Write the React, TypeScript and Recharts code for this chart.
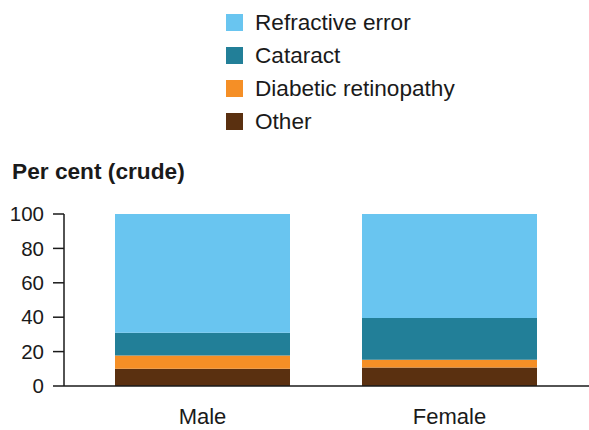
import { BarChart, Bar, XAxis, YAxis } from "recharts";

const groups = ["Male", "Female"];
const other = [10.0, 10.8];
const diabeticRetinopathy = [7.8, 4.5];
const cataract = [13.1, 24.3];
const refractiveError = [69.1, 60.4];
const yTicks = [0, 20, 40, 60, 80, 100];

const series = [
  { key: "refractive", name: "Refractive error", color: "#69C5F0" },
  { key: "cataract", name: "Cataract", color: "#227F98" },
  { key: "diabetic", name: "Diabetic retinopathy", color: "#F58F26" },
  { key: "other", name: "Other", color: "#5A3010" },
];

const data = groups.map((g, i) => ({
  name: g,
  other: other[i],
  diabetic: diabeticRetinopathy[i],
  cataract: cataract[i],
  refractive: refractiveError[i],
}));

const font = "'Liberation Sans', Arial, sans-serif";

const LegendBox = () => (
  <div
    style={{
      position: "absolute",
      top: 6,
      left: 226,
      fontFamily: font,
      fontSize: 22.6,
      color: "#1a1a1a",
      zIndex: 2,
    }}
  >
    {series.map((s) => (
      <div
        key={s.key}
        style={{ display: "flex", alignItems: "center", height: 33 }}
      >
        <span
          style={{
            width: 17,
            height: 17,
            background: s.color,
            display: "inline-block",
            marginRight: 12,
          }}
        />
        <span>{s.name}</span>
      </div>
    ))}
  </div>
);

const Title = () => (
  <text
    x={12}
    y={179}
    fontFamily={font}
    fontSize={22.7}
    fontWeight="bold"
    fill="#1a1a1a"
  >
    Per cent (crude)
  </text>
);

export default function App() {
  return (
    <div
      style={{
        position: "absolute",
        left: 0,
        top: 0,
        width: 589,
        height: 430,
        background: "#fff",
      }}
    >
      <LegendBox />
      <BarChart
        width={589}
        height={430}
        data={data}
        margin={{ top: 214, right: 0, bottom: 0, left: 0 }}
      >
        <XAxis
          dataKey="name"
          height={44}
          padding={{ left: 15, right: 16 }}
          tickLine={false}
          tickSize={0}
          tickMargin={22}
          stroke="#1a1a1a"
          strokeWidth={1.5}
          tick={{ fill: "#1a1a1a", fontSize: 22, fontFamily: font }}
        />
        <YAxis
          width={64}
          domain={[0, 100]}
          ticks={yTicks}
          interval={0}
          tickSize={11}
          tickMargin={9}
          stroke="#1a1a1a"
          strokeWidth={1.5}
          tick={{ fill: "#1a1a1a", fontSize: 20.5, fontFamily: font }}
          label={{ content: () => <Title /> }}
        />
        {[...series].reverse().map((s) => (
          <Bar
            key={s.key}
            dataKey={s.key}
            name={s.name}
            stackId="a"
            fill={s.color}
            barSize={175}
            isAnimationActive={false}
          />
        ))}
      </BarChart>
    </div>
  );
}
